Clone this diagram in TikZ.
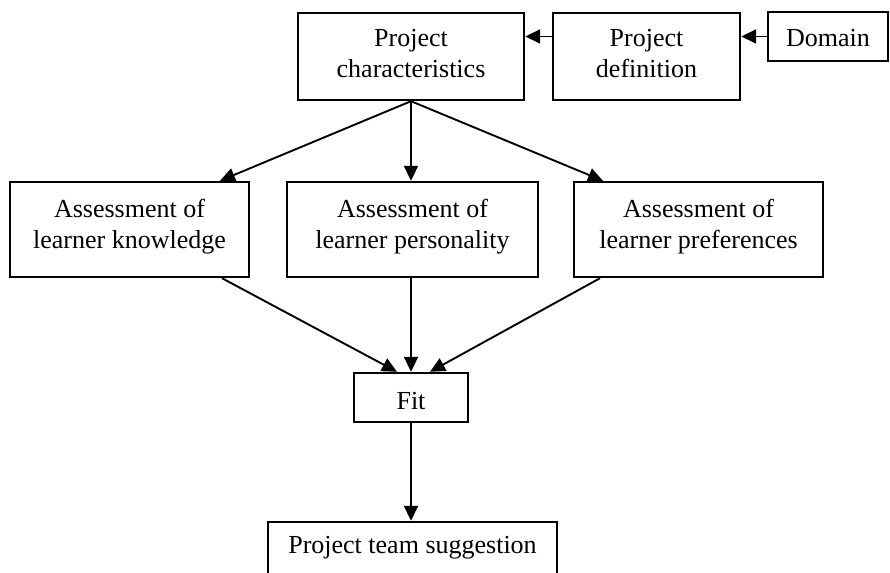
\documentclass[tikz,border=0pt]{standalone}
\usepackage{fontspec}
\setmainfont{Liberation Serif}
\usetikzlibrary{arrows.meta}

\tikzset{
  box/.style={draw, line width=2.4pt, rectangle, inner sep=0pt},
  label text/.style={inner sep=0pt, align=center, font=\fontsize{26}{31}\selectfont},
  flow/.style={line width=1.9pt, -{Triangle[length=15pt,width=14pt]}},
}

\begin{document}
\begin{tikzpicture}[x=1pt, y=-1pt]
  \useasboundingbox (0,0) rectangle (890,572);
  \clip (0,0) rectangle (890,572);

  % top row: characteristics, definition, domain
  \node[box, minimum width=226pt, minimum height=87pt] (pc) at (411,56.5) {};
  \node[label text] (pct) at (411,54) {Project\\characteristics};
  \node[box, minimum width=187pt, minimum height=87pt] (pd) at (646.5,56.5) {};
  \node[label text] (pdt) at (646.5,54) {Project\\definition};
  \node[box, minimum width=120pt, minimum height=49pt] (dom) at (828,36.5) {};
  \node[label text] (domt) at (828,38) {Domain};

  % assessment row
  \node[box, minimum width=239pt, minimum height=95pt] (ak) at (129.5,229.5) {};
  \node[label text] (akt) at (129.5,227) {Assessment of\\learner knowledge};
  \node[box, minimum width=251pt, minimum height=95pt] (ap) at (412.5,229.5) {};
  \node[label text] (apt) at (412.5,227) {Assessment of\\learner personality};
  \node[box, minimum width=249pt, minimum height=95pt] (apr) at (698.5,229.5) {};
  \node[label text] (aprt) at (698.5,227) {Assessment of\\learner preferences};

  % fit and suggestion
  \node[box, minimum width=114pt, minimum height=49pt] (fit) at (411,397.5) {};
  \node[label text] (fitt) at (411,401) {Fit};
  \node[box, minimum width=289pt, minimum height=100pt] (sug) at (412.5,572) {};
  \node[label text] (sugt) at (412.5,548) {Project team suggestion};

  % connectors
  \draw[flow] (dom.west) -- (pd.east |- dom.west);
  \draw[flow] (pd.west |- dom.west) -- (pc.east |- dom.west);
  \draw[flow] (pc.south) -- ([xshift=90.5pt]ak.north);
  \draw[flow] (pc.south) -- (pc.south |- ap.north);
  \draw[flow] (pc.south) -- ([xshift=-95.5pt]apr.north);
  \draw[flow] ([xshift=92.5pt]ak.south) -- ([xshift=-14pt]fit.north);
  \draw[flow] (ap.south -| fit.north) -- (fit.north);
  \draw[flow] ([xshift=-98.5pt]apr.south) -- ([xshift=19pt]fit.north);
  \draw[flow] (fit.south) -- (fit.south |- sug.north);
\end{tikzpicture}
\end{document}
